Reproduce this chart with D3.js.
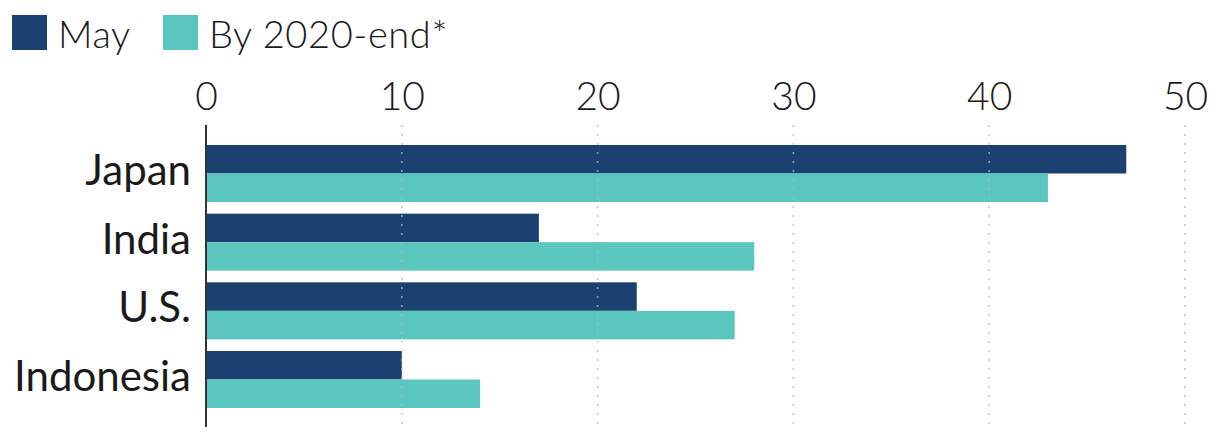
<!DOCTYPE html>
<html><head><meta charset="utf-8">
<script src="https://cdn.jsdelivr.net/npm/d3@7"></script>
<style>body{margin:0;background:#fff}svg{display:block}text{font-family:Lato,"Noto Sans",sans-serif;font-weight:300;fill:#1a1a1a}</style>
</head><body><svg id="c" width="1210" height="427"></svg>
<script>
const categories = ["Japan","India","U.S.","Indonesia"];
const seriesNames = ["May","By 2020-end*"];
const mayValues = [47,17,22,10];
const endValues = [43,28,27,14];
const tickValues = [0,10,20,30,40,50];
const colors = ["#1b4170","#5bc6bd"];

const svg = d3.select("#c");
const x = d3.scaleLinear().domain([0,50]).range([206,1185]);
const y = d3.scaleBand().domain(categories).range([145,408]).paddingInner(0.17).paddingOuter(0);
const sub = d3.scaleBand().domain(seriesNames).range([0,y.bandwidth()]);

const data = categories.map((c,i)=>({c, vals:[mayValues[i], endValues[i]]}));
const g = svg.append("g");
data.forEach(d=>{
  d.vals.forEach((v,j)=>{
    g.append("rect").attr("x",x(0)).attr("y",y(d.c)+sub(seriesNames[j]))
     .attr("width",x(v)-x(0)).attr("height",sub.bandwidth()).attr("fill",colors[j]);
  });
});

// gridlines
svg.append("g").selectAll("line").data(tickValues.filter(t=>t>0)).join("line")
  .attr("x1",d=>x(d)).attr("x2",d=>x(d)).attr("y1",125).attr("y2",427)
  .attr("stroke","#b8b8b8").attr("stroke-width",1.6).attr("stroke-dasharray","2,7").attr("opacity",0.8);

// top axis labels
const ax = svg.append("g").attr("transform","translate(0,110)")
  .call(d3.axisTop(x).tickValues(tickValues).tickSize(0).tickPadding(0).tickFormat(d3.format("d")));
ax.select(".domain").remove();
ax.selectAll("text").style("font-size","39px").style("font-family","Lato").style("font-weight","300").attr("fill","#1a1a1a").attr("dy",0);

// vertical baseline
svg.append("line").attr("x1",x(0)).attr("x2",x(0)).attr("y1",125).attr("y2",427)
  .attr("stroke","#333").attr("stroke-width",2);

// category labels
const ay = svg.append("g").attr("transform","translate(191,0)")
  .call(d3.axisLeft(y).tickSize(0).tickPadding(0));
ay.select(".domain").remove();
ay.selectAll("text").style("font-size","42px").style("font-family","Lato").style("font-weight","400").attr("fill","#1a1a1a").attr("dy","0.27em");

// legend
const legX = [12,163];
seriesNames.forEach((s,i)=>{
  svg.append("rect").attr("x",legX[i]).attr("y",15).attr("width",35).attr("height",35).attr("fill",colors[i]);
  svg.append("text").attr("x",legX[i]+46).attr("y",48).text(s).style("font-size","38px").style("letter-spacing","0.6px");
});
</script></body></html>
